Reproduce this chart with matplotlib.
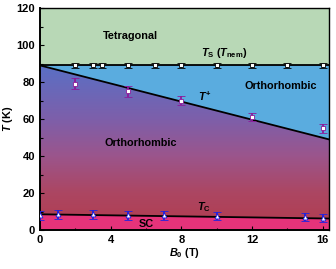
import numpy as np
import matplotlib
matplotlib.use("Agg")
import matplotlib.pyplot as plt
from matplotlib.colors import LinearSegmentedColormap
from matplotlib.patches import Polygon

plt.rcParams['font.family'] = ['Liberation Sans', 'DejaVu Sans']
plt.rcParams['font.weight'] = 'bold'
plt.rcParams['mathtext.fontset'] = 'custom'
plt.rcParams['mathtext.rm'] = 'Liberation Sans:bold'
plt.rcParams['mathtext.it'] = 'Liberation Sans:bold:italic'
plt.rcParams['mathtext.bf'] = 'Liberation Sans:bold'

# data
ts_B = [2, 3, 3.5, 5, 6.5, 8, 10, 12, 14, 16]
ts_T = [89, 89, 89, 89, 89, 89, 89, 89, 89, 89]
ts_err = [1.5] * 10
tp_B = [2, 5, 8, 12, 16]
tp_T = [79, 75, 70, 61, 55]
tp_err = [3, 3, 2.5, 2, 2.5]
tc_B = [0, 1, 3, 5, 7, 10, 15, 16]
tc_T = [8, 8.5, 8.5, 8, 8, 7.5, 7, 6.5]
tc_err = [2.5, 2.5, 2.5, 2.5, 2.5, 2, 2, 2]
ts_line = (89, 89)      # T at B=0, B=xmax
tp_line = (89, 49)
tc_line = (8.5, 6.2)
xmax = 16.35

fig = plt.figure(figsize=(3.36, 2.69), dpi=100)
ax = fig.add_axes([0.119, 0.145, 0.860, 0.825])
ax.set_xlim(0, xmax)
ax.set_ylim(0, 120)

# gradient background
cmap = LinearSegmentedColormap.from_list('g', [
    (0.0, (178/255, 60/255, 78/255)),
    (20/90, (172/255, 70/255, 98/255)),
    (40/90, (155/255, 85/255, 140/255)),
    (60/90, (125/255, 95/255, 170/255)),
    (1.0, (88/255, 112/255, 198/255))])
grad = np.linspace(0, 1, 256).reshape(-1, 1)
ax.imshow(grad, extent=[0, xmax, 0, 90], origin='lower', aspect='auto',
          cmap=cmap, zorder=0)

# regions
ax.add_patch(Polygon([[0, ts_line[0]], [xmax, ts_line[1]], [xmax, 120], [0, 120]],
                     closed=True, fc='#b8d8b6', ec='none', zorder=1))
ax.add_patch(Polygon([[0, tp_line[0]], [xmax, tp_line[1]], [xmax, ts_line[1]], [0, ts_line[0]]],
                     closed=True, fc='#5aacdf', ec='none', zorder=1))
ax.add_patch(Polygon([[0, 0], [xmax, 0], [xmax, tc_line[1]], [0, tc_line[0]]],
                     closed=True, fc='#e5337a', ec='none', zorder=1))

# lines
ax.plot([0, xmax], ts_line, color='black', lw=1.3, zorder=2)
ax.plot([0, xmax], tp_line, color='black', lw=1.3, zorder=2)
ax.plot([0, xmax], tc_line, color='black', lw=1.3, zorder=2)

# data points
kw = dict(elinewidth=1.3, capsize=2.6, capthick=1.3, zorder=3)
ax.errorbar(ts_B, ts_T, yerr=ts_err, fmt='s', ms=3, mfc='white', mec='black', mew=0.6,
            ecolor='black', **kw)
ax.errorbar(tp_B, tp_T, yerr=tp_err, fmt='s', ms=3, mfc='white', mec='#8b1a9b', mew=0.6,
            ecolor='#8b1a9b', **kw)
ax.errorbar(tc_B, tc_T, yerr=tc_err, fmt='^', ms=3.5, mfc='white', mec='#2020e0', mew=0.6,
            ecolor='#2020e0', **kw)

fs = 7.8
ax.text(5.1, 105, 'Tetragonal', fontsize=fs, fontweight='bold', ha='center', va='center')
ax.text(10.4, 95.5, r'$\mathit{T}_{\mathrm{S}}$ ($\mathit{T}_{\mathrm{nem}}$)',
        fontsize=fs, fontweight='bold', ha='center', va='center')
ax.text(13.6, 78, 'Orthorhombic', fontsize=fs, fontweight='bold', ha='center', va='center')
ax.text(9.3, 72.5, r'$\mathit{T}^{\mathrm{+}}$', fontsize=fs, ha='center', va='center')
ax.text(5.7, 47, 'Orthorhombic', fontsize=fs, fontweight='bold', ha='center', va='center')
ax.text(9.3, 12.5, r'$\mathit{T}_{\mathrm{C}}$', fontsize=fs, ha='center', va='center')
ax.text(6.0, 3.5, 'SC', fontsize=fs, fontweight='bold', ha='center', va='center')

ax.set_xticks([0, 4, 8, 12, 16])
ax.set_xticks([2, 6, 10, 14], minor=True)
ax.set_yticks([0, 20, 40, 60, 80, 100, 120])
ax.set_yticks([10, 30, 50, 70, 90, 110], minor=True)
ax.tick_params(which='both', direction='in', labelsize=8, width=0.8)
ax.tick_params(which='major', length=3)
ax.tick_params(which='minor', length=1.8)
for lab in ax.get_xticklabels() + ax.get_yticklabels():
    lab.set_fontweight('bold')
ax.set_xlabel(r'$\mathit{B}_{\mathrm{0}}$ (T)', fontsize=fs, fontweight='bold', labelpad=1)
ax.set_ylabel(r'$\mathit{T}$ (K)', fontsize=fs, fontweight='bold', labelpad=1)
for s in ax.spines.values():
    s.set_linewidth(1.0)
ax.spines['left'].set_linewidth(1.4)
ax.spines['bottom'].set_linewidth(1.4)

fig.savefig('out.png', dpi=100)
